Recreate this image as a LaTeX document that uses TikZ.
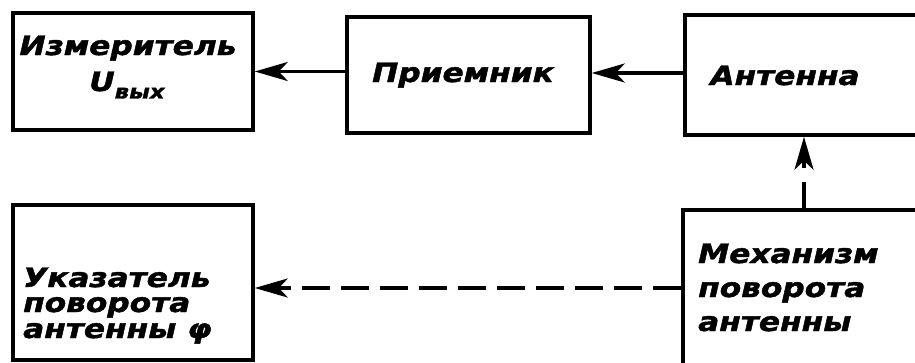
\documentclass[tikz,border=0pt]{standalone}
\usepackage{fontspec}
\setmainfont{DejaVu Sans}[BoldItalicFeatures={FakeBold=1.5}]
\usetikzlibrary{arrows.meta}
% lettering: slightly wide and low, like drafting script
\newcommand\drft[1]{\scalebox{1.04}[0.89]{#1}}
\begin{document}
\begin{tikzpicture}[x=1pt,y=-1pt,
  box/.style={draw,line width=3.5pt,inner sep=0pt,outer sep=1.75pt},
  lbl/.style={inner sep=0pt,font=\fontsize{30}{30}\selectfont\bfseries\itshape},
  arr/.style={line width=3.5pt,-{Stealth[length=33pt,width=19pt,inset=9pt]}},
  dsh/.style={arr,dash pattern=on 28pt off 11pt}]
\useasboundingbox (0,0) rectangle (915,362);
\clip (0,0) rectangle (915,362);
% blocks
\node[box,minimum width=240pt,minimum height=117pt] (b1) at (133,71.5) {};
\node[box,minimum width=243pt,minimum height=116pt] (b2) at (468.5,75) {};
\node[box,minimum width=240pt,minimum height=120pt] (b3) at (805,75) {};
\node[box,minimum width=240pt,minimum height=155pt] (b4) at (133,282.5) {};
\node[box,minimum width=242pt,minimum height=165pt] (b5) at (804,292.5) {};
% labels (multi-line labels are placed by the baseline of their last line)
\node[lbl,anchor=base] (t1) at (128,55) {\drft{Измеритель}};
\node[lbl,anchor=base] (t1u) at (127,91) {\drft{U\raisebox{-0.28em}{\fontsize{22}{22}\selectfont вых}}};
\node[lbl,anchor=base] (t2) at (463,82) {\drft{Приемник}};
\node[lbl,anchor=base] (t3) at (785,85) {\drft{Антенна}};
\node[lbl,anchor=base west,align=left,font=\fontsize{30}{26}\selectfont\bfseries\itshape]
  (t4) at (23,338) {\drft{Указатель}\\[-1pt]\drft{поворота}\\\drft{антенны φ}};
\node[lbl,anchor=base west,align=left,font=\fontsize{30}{34}\selectfont\bfseries\itshape]
  (t5) at (698,331) {\drft{Механизм}\\\drft{поворота}\\\drft{антенны}};
% connections
\coordinate (dy) at (0,288);
\draw[arr] (b2.west |- b1.east) -- (b1.east);
\draw[arr] (b3.west |- 0,73) -- (b2.east |- 0,73);
\draw[arr,dash pattern=on 26pt off 14pt] (b5.north) -- (b5.north |- b3.south);
\draw[dsh] (b5.west |- dy) -- (b4.east |- dy);
\end{tikzpicture}
\end{document}
